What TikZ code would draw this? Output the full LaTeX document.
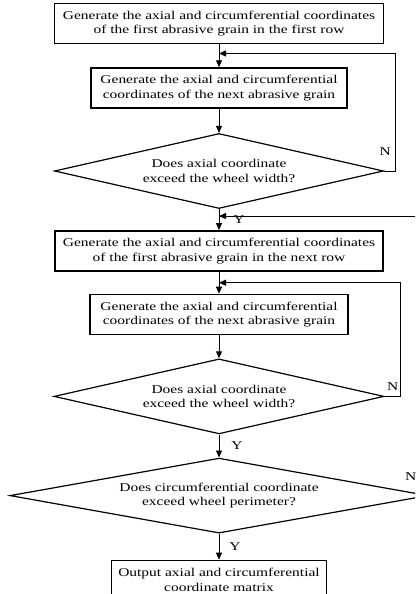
\documentclass[tikz,border=0pt]{standalone}
\usepackage{fontspec}
\setmainfont{Liberation Serif}[FakeStretch=1.3]
\usetikzlibrary{arrows.meta, positioning, shapes.geometric, calc}
\begin{document}
\begin{tikzpicture}[
  font=\fontsize{11.9}{14.7}\selectfont,
  box/.style={draw, line width=1.6pt, align=center, minimum height=40pt, inner sep=2pt},
  dec/.style={draw, diamond, aspect=4.5, line width=1.2pt, align=center,
              inner sep=0pt, minimum height=75pt},
  arr/.style={-{Triangle[length=7pt,width=6pt]}, line width=0.9pt},
  lbl/.style={inner sep=0pt},
  node distance=23pt
]
\useasboundingbox (0,0) rectangle (415pt,-594pt);
\clip (0,0) rectangle (415pt,-594pt);
\node[box, minimum width=329pt] (first) at (219pt,-23.5pt)
  {Generate the axial and circumferential coordinates\\of the first abrasive grain in the first row};
\node[box, minimum width=256pt, below=of first] (next)
  {Generate the axial and circumferential\\coordinates of the next abrasive grain};
\node[dec, minimum width=329pt, below=24pt of next] (width)
  {Does axial coordinate\\exceed the wheel width?};
\node[box, minimum width=328pt, below=21pt of width] (row)
  {Generate the axial and circumferential coordinates\\of the first abrasive grain in the next row};
\node[box, minimum width=258pt, below=22pt of row] (next2)
  {Generate the axial and circumferential\\coordinates of the next abrasive grain};
\node[dec, minimum width=330pt, below=of next2] (width2)
  {Does axial coordinate\\exceed the wheel width?};
\node[dec, minimum width=418pt, aspect=5.5, below=of width2] (perim)
  {Does circumferential coordinate\\exceed wheel perimeter?};
\node[box, minimum width=215pt, minimum height=39pt, below=26pt of perim] (out)
  {Output axial and circumferential\\coordinate matrix};

\coordinate (j1) at ($(first.south)!.4!(next.north)$);
\coordinate (j2) at ($(row.south)!.5!(next2.north)$);
\coordinate (j3) at ($(width.south)!.33!(row.north)$);

\draw[arr] (first) -- (next);
\draw[arr] (next) -- (width);
\draw[arr] (width.east) -- ++(11pt,0) |- (j1);
\node[lbl] (n1) at ([shift={(1pt,19.5pt)}]width.east) {N};
\draw[arr] (width) -- node[lbl, right=14pt] (y1) {Y} (row);
\draw[arr] (row) -- (next2);
\draw[arr] (next2) -- (width2);
\draw[arr] (width2.east) -- ++(16pt,0) |- (j2);
\node[lbl] (n2) at ([shift={(8pt,9.5pt)}]width2.east) {N};
\draw[arr] (width2) -- node[lbl, right=12pt] (y2) {Y} (perim);
\draw[arr] (perim.east) -- ++(8pt,0) |- (j3);
\node[lbl] (n3) at ([shift={(-18pt,19pt)}]perim.east) {N};
\draw[arr] (perim) -- node[lbl, right=10pt] (y3) {Y} (out);
\end{tikzpicture}
\end{document}
